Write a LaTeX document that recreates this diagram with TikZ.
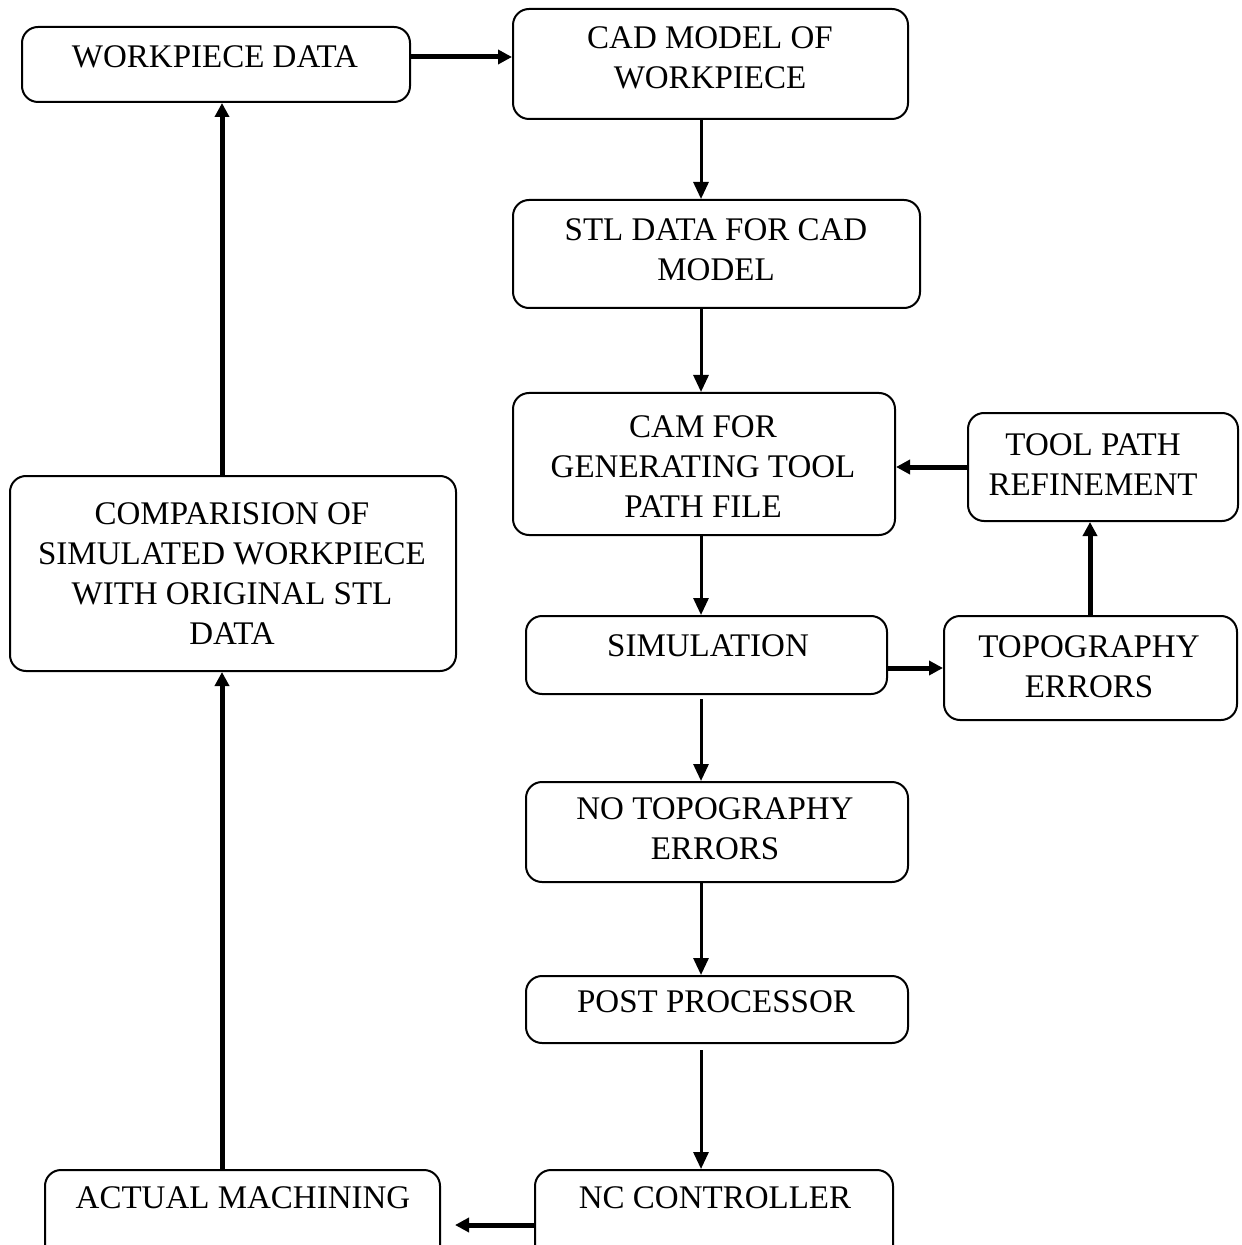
\documentclass[tikz,border=0pt]{standalone}
\usepackage{fontspec}
\setmainfont{Liberation Serif}
\usetikzlibrary{arrows.meta,calc}

\tikzset{
  box/.style={draw, line width=1pt, rounded corners=8pt, inner sep=0pt},
  txt/.style={align=center, inner sep=0pt, font=\fontsize{16.5}{20}\selectfont},
  thin arrow/.style={line width=1.5pt, -{Triangle[length=8.5pt,width=7.5pt]}},
  thick arrow/.style={line width=2.5pt, -{Triangle[length=7pt,width=7pt]}}
}

\begin{document}
\begin{tikzpicture}[x=0.5pt, y=-0.5pt]
  \clip (0,0) rectangle (1241,1245);
  \fill[white] (0,0) rectangle (1241,1245);

  % process boxes
  \node[box, minimum width=194pt, minimum height=37.5pt] (wd) at (216,64.5) {};
  \node[box, minimum width=197.5pt, minimum height=55pt] (cad) at (710.5,64) {};
  \node[box, minimum width=203.5pt, minimum height=54pt] (stl) at (716.5,254) {};
  \node[box, minimum width=191pt, minimum height=71pt] (cam) at (704,464) {};
  \node[box, minimum width=135pt, minimum height=54pt] (tpr) at (1103,467) {};
  \node[box, minimum width=180.5pt, minimum height=39pt] (sim) at (706.5,655) {};
  \node[box, minimum width=146.5pt, minimum height=52pt] (topo) at (1090.5,668) {};
  \node[box, minimum width=191pt, minimum height=50pt] (notopo) at (717,832) {};
  \node[box, minimum width=191pt, minimum height=33.5pt] (post) at (717,1009.5) {};
  \node[box, minimum width=179pt, minimum height=55pt] (nc) at (714,1225) {};
  \node[box, minimum width=197.5pt, minimum height=55pt] (am) at (242.5,1225) {};
  \node[box, minimum width=223pt, minimum height=97.5pt] (comp) at (233,573.5) {};

  % box captions
  \node[txt] (wdt) at (215,57) {WORKPIECE DATA};
  \node[txt] (cadt) at (710,58) {CAD MODEL OF\\WORKPIECE};
  \node[txt] (stlt) at (716,250) {STL DATA FOR CAD\\MODEL};
  \node[txt] (camt) at (703,467) {CAM FOR\\GENERATING TOOL\\PATH FILE};
  \node[txt] (tprt) at (1093,465) {TOOL PATH\\REFINEMENT};
  \node[txt] (simt) at (708,646) {SIMULATION};
  \node[txt] (topot) at (1089,667) {TOPOGRAPHY\\ERRORS};
  \node[txt] (notopot) at (715,829) {NO TOPOGRAPHY\\ERRORS};
  \node[txt] (postt) at (716,1002) {POST PROCESSOR};
  \node[txt] (nct) at (715,1198) {NC CONTROLLER};
  \node[txt] (amt) at (243,1198) {ACTUAL MACHINING};
  \node[txt] (compt) at (232,573.5) {COMPARISION OF\\SIMULATED WORKPIECE\\WITH ORIGINAL STL\\DATA};

  % axes of the vertical connectors
  \coordinate (spine) at (701,0);
  \coordinate (loop) at (222,0);
  \coordinate (feedback) at (1090,0);

  % main flow
  \draw[thick arrow] (wd.east |- wdt) -- (cad.west |- wdt);
  \draw[thin arrow] (cad.south -| spine) -- (stl.north -| spine);
  \draw[thin arrow] (stl.south -| spine) -- (cam.north -| spine);
  \draw[thin arrow] (cam.south -| spine) -- (sim.north -| spine);
  \draw[thin arrow, shorten <=2pt] (sim.south -| spine) -- (notopo.north -| spine);
  \draw[thin arrow] (notopo.south -| spine) -- (post.north -| spine);
  \draw[thin arrow, shorten <=3pt] (post.south -| spine) -- (nc.north -| spine);

  % refinement loop
  \draw[thick arrow] (sim.east |- topo) -- (topo.west);
  \draw[thick arrow] (topo.north -| feedback) -- (tpr.south -| feedback);
  \draw[thick arrow] (tpr.west) -- (cam.east |- tpr);

  % machining and comparison
  \draw[thick arrow, shorten >=7pt] (nc.west) -- (am.east);
  \draw[thick arrow] (am.north -| loop) -- (comp.south -| loop);
  \draw[thick arrow] (comp.north -| loop) -- (wd.south -| loop);
\end{tikzpicture}
\end{document}
